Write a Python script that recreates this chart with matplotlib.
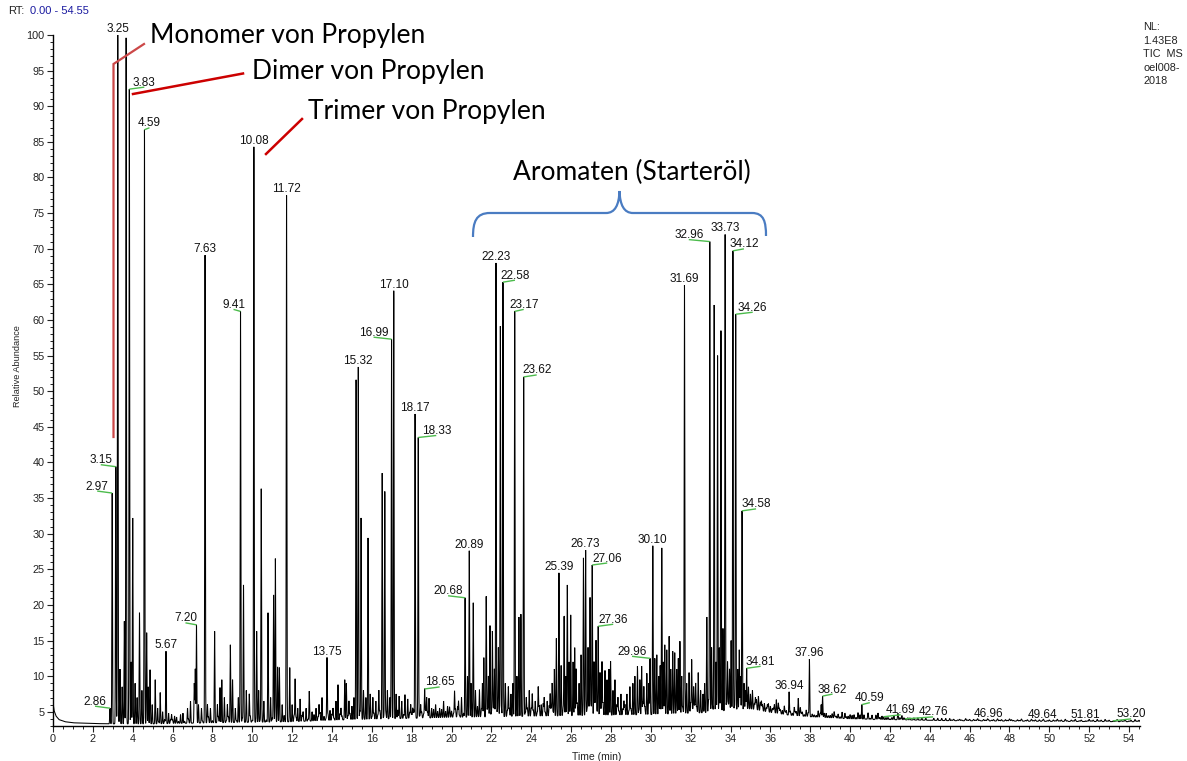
import numpy as np
import matplotlib
matplotlib.use("Agg")
import matplotlib.pyplot as plt
from matplotlib.ticker import MultipleLocator
from matplotlib.path import Path
from matplotlib.patches import PathPatch
from matplotlib.lines import Line2D

W, H = 1187, 761
plt.rcParams['font.family'] = ['Liberation Sans', 'DejaVu Sans']

# ---------------------------------------------------------------- data
# Peak table: retention time (min) and apex height (relative abundance, %)
peak_rt = [
    2.86, 2.97, 3.15, 3.25, 3.36, 3.47, 3.58, 3.67, 3.83, 3.92, 4.00, 4.12, 4.22,
    4.34, 4.46, 4.59, 4.70, 4.78, 4.87, 4.98, 5.13, 5.25, 5.38, 5.50, 5.67, 5.80,
    5.95, 6.10, 6.40, 6.52, 6.75, 6.90, 7.09, 7.14, 7.20, 7.30, 7.45, 7.63, 7.75,
    7.90, 8.11, 8.25, 8.38, 8.47, 8.60, 8.75, 8.90, 9.01, 9.15, 9.30, 9.41, 9.56,
    9.70, 9.85, 10.08, 10.22, 10.32, 10.45, 10.58, 10.79, 10.92, 11.07, 11.16,
    11.27, 11.36, 11.50, 11.72, 11.88, 12.00, 12.15, 12.28, 12.40, 12.55, 12.70,
    12.86, 13.00, 13.20, 13.35, 13.50, 13.75, 13.90, 14.05, 14.20, 14.30, 14.45,
    14.64, 14.72, 14.85, 15.00, 15.10, 15.21, 15.32, 15.46, 15.58, 15.70, 15.81,
    15.92, 16.05, 16.20, 16.35, 16.52, 16.65, 16.78, 16.90, 16.99, 17.10, 17.22,
    17.37, 17.50, 17.66, 17.80, 17.95, 18.05, 18.17, 18.33, 18.45, 18.65, 18.75,
    18.87, 19.00, 19.20, 19.40, 19.60, 19.80, 20.15, 20.35, 20.50, 20.68, 20.80,
    20.89, 20.98, 21.09, 21.20, 21.40, 21.55, 21.62, 21.74, 21.85, 21.93, 22.05,
    22.15, 22.23, 22.35, 22.45, 22.58, 22.70, 22.85, 22.98, 23.08, 23.17, 23.28,
    23.38, 23.48, 23.62, 23.75, 23.90, 24.05, 24.20, 24.35, 24.50, 24.65, 24.80,
    24.95, 25.05, 25.16, 25.26, 25.39, 25.50, 25.65, 25.73, 25.81, 25.90, 25.98,
    26.10, 26.18, 26.25, 26.40, 26.50, 26.62, 26.73, 26.85, 26.95, 27.06, 27.15,
    27.25, 27.36, 27.45, 27.55, 27.70, 27.80, 27.90, 27.98, 28.10, 28.20, 28.35,
    28.50, 28.65, 28.80, 28.95, 29.10, 29.20, 29.33, 29.45, 29.54, 29.65, 29.80,
    29.90, 29.96, 30.10, 30.20, 30.30, 30.40, 30.47, 30.55, 30.63, 30.70, 30.80,
    30.92, 31.00, 31.10, 31.20, 31.30, 31.38, 31.46, 31.55, 31.69, 31.80, 31.92,
    32.05, 32.15, 32.25, 32.38, 32.50, 32.62, 32.70, 32.81, 32.96, 33.05, 33.18,
    33.27, 33.35, 33.44, 33.52, 33.62, 33.73, 33.85, 33.95, 34.03, 34.12, 34.26,
    34.36, 34.44, 34.50, 34.58, 34.68, 34.75, 34.81, 34.90, 35.00, 35.10, 35.25,
    35.40, 35.55, 35.70, 35.85, 36.00, 36.15, 36.30, 36.45, 36.60, 36.75, 36.94,
    37.10, 37.25, 37.40, 37.55, 37.70, 37.96, 38.10, 38.30, 38.55, 38.62, 38.80,
    39.00, 39.25, 39.50, 39.74, 39.90, 40.10, 40.30, 40.59, 40.80, 41.00, 41.20,
    41.45, 41.60, 41.69, 41.80, 42.00, 42.30, 42.55, 42.76, 43.10, 43.50, 44.00,
    46.96, 49.64, 51.81, 53.20,
]
peak_top = [
    5.5, 35.7, 39.4, 100.0, 11.0, 8.5, 17.7, 99.6, 92.4, 12.0, 32.2, 9.0, 7.0,
    18.9, 8.0, 86.7, 16.1, 8.5, 10.9, 6.0, 9.5, 5.5, 7.7, 5.0, 13.5, 4.8,
    4.6, 4.4, 4.6, 4.8, 5.5, 6.5, 9.0, 11.0, 17.2, 6.0, 5.5, 69.1, 6.0,
    5.5, 16.3, 6.0, 8.4, 9.5, 7.0, 6.0, 14.4, 9.5, 5.5, 7.0, 61.2, 22.8,
    8.0, 7.5, 84.3, 16.3, 8.0, 36.3, 6.5, 18.9, 7.0, 21.4, 26.5,
    11.3, 11.2, 6.0, 77.5, 11.2, 6.0, 9.6, 5.5, 6.8, 5.0, 5.5,
    7.9, 5.0, 5.5, 6.0, 7.0, 12.6, 5.2, 5.5, 6.5, 8.8, 5.5,
    9.5, 9.0, 6.5, 5.8, 7.0, 51.6, 53.4, 32.2, 8.0, 7.0, 29.4,
    7.5, 7.0, 6.5, 8.0, 38.5, 35.9, 8.0, 7.0, 57.3, 64.1, 7.5,
    7.2, 6.5, 7.4, 6.8, 6.0, 5.5, 46.8, 43.5, 6.0, 8.2, 7.0,
    6.9, 5.5, 6.0, 5.5, 6.5, 5.8, 7.9, 6.5, 7.0, 21.0, 10.0,
    27.6, 9.0, 20.3, 8.0, 8.1, 9.0, 12.6, 21.2, 10.0, 17.1, 16.3,
    11.0, 68.0, 14.0, 59.1, 65.3, 9.0, 8.5, 7.5, 9.0, 61.2, 10.0,
    18.3, 18.7, 52.0, 7.0, 8.0, 7.5, 6.5, 8.5, 6.0, 7.0, 6.5,
    7.5, 9.0, 11.0, 15.3, 24.5, 11.5, 18.4, 10.0, 22.8, 12.0, 18.6,
    12.0, 14.0, 11.0, 9.0, 13.0, 26.6, 27.7, 14.0, 21.0, 25.6, 12.0,
    15.0, 17.0, 10.5, 12.0, 10.8, 9.5, 11.0, 12.1, 8.0, 9.5, 7.0,
    7.5, 6.5, 7.5, 8.5, 9.0, 10.0, 11.4, 9.5, 11.4, 8.5, 10.4,
    9.0, 12.5, 28.3, 12.5, 13.0, 10.0, 11.5, 28.0, 12.0, 14.4, 13.7,
    15.6, 11.0, 13.5, 13.3, 11.0, 12.5, 14.9, 10.0, 64.9, 9.0, 10.5,
    12.3, 8.5, 9.0, 10.5, 8.0, 7.5, 9.0, 18.3, 71.0, 14.0, 62.1,
    12.0, 55.0, 14.0, 58.5, 16.7, 72.0, 12.0, 11.0, 15.0, 69.7, 60.8,
    11.0, 13.7, 10.0, 33.2, 9.0, 8.0, 11.1, 8.5, 7.5, 8.0, 7.0,
    7.2, 6.5, 6.2, 6.0, 5.8, 5.5, 6.7, 5.5, 5.2, 5.0, 7.8,
    4.8, 5.0, 6.9, 4.8, 4.6, 12.4, 4.7, 4.5, 6.0, 7.2, 4.8,
    4.5, 4.3, 4.3, 4.8, 4.4, 4.5, 4.2, 6.0, 4.0, 4.1, 3.9,
    4.0, 4.4, 4.3, 4.2, 4.0, 3.9, 3.95, 4.0, 3.85, 3.85, 3.8,
    3.85, 3.75, 3.72, 3.72,
]

# Baseline (drift) of the total ion current
base_rt = [0.0, 0.05, 0.15, 0.3, 0.6, 1.0, 2.0, 2.9, 5.0, 8.0, 12.0, 15.0,
           20.0, 25.0, 30.0, 33.0, 35.0, 36.0, 37.0, 38.0, 40.0, 42.0, 45.0,
           50.0, 54.55]
base_level = [6.3, 5.2, 4.4, 3.9, 3.6, 3.45, 3.35, 3.3, 3.3, 3.45, 3.6, 3.9,
              4.2, 4.4, 4.6, 4.9, 5.4, 4.9, 4.5, 4.3, 4.0, 3.9, 3.75,
              3.65, 3.6]

# Minor peaks every 0.1 min from 3.0 min; each digit is a height step of 0.3 %
minor_start, minor_step, minor_unit = 3.0, 0.1, 0.3
minor_heights = (
    "1021301201" "0312012203" "1201302102" "2031201021" "0213012031"
    "1203102130" "2013021203" "1302103120" "2031203102" "1320130213"
    "2312432132" "3142321423" "4132413423" "1342431324" "3214342413"
    "2434132432" "1423441325" "3245132432" "4135243142" "2453142434"
    "3524435243" "4342546235" "4263524345" "2436452634" "5362436524"
    "4635243542" "3546236425" "5243564235" "3465243625" "5243654236"
    "4352435243" "3425342354" "2435243524" "3243523423" "2342342132"
    "2312321231" "1231213212" "2121321213" "1212312121" "2121312121"
    "101010101010101010101"
)
# Ripple on the late, flat part of the run: every 0.1 min from 45.1 min,
# each digit a height step of 0.1 %
tail_start, tail_step, tail_unit = 45.1, 0.1, 0.1
tail_heights = (
    "1201210312" "0213102130" "1203120213" "2102130120" "3120213012"
    "0213120310" "2130120213" "1203120312" "0213021301" "20312"
)

# Labelled peaks; shift = length of the leader line in pixels
# (negative: label to the left, positive: label to the right, 0: centred)
label_rt = [2.86, 2.97, 3.15, 3.25, 3.83, 4.59, 5.67, 7.20, 7.63, 9.41, 10.08,
            11.72, 13.75, 15.32, 16.99, 17.10, 18.17, 18.33, 18.65, 20.68,
            20.89, 22.23, 22.58, 23.17, 23.62, 25.39, 26.73, 27.06, 27.36,
            29.96, 30.10, 31.69, 32.96, 33.73, 34.12, 34.26, 34.58, 34.81,
            36.94, 37.96, 38.62, 40.59, 41.69, 42.76, 46.96, 49.64, 51.81,
            53.20]
label_shift = [-15, -15, -15, 0, 15, 5, 0, -11, 0, -7, 0,
               0, 0, 0, -18, 0, 0, 18, 15, -17,
               0, 0, 12, 9, 13, 0, 0, 15, 15,
               -18, 0, 0, -21, 0, 11, 17, 14, 14,
               0, 0, 10, 8, 17, 28, 0, 0, 0,
               18]

# ---------------------------------------------------------------- trace
t = np.union1d(np.arange(0.0, 54.55 + 1e-9, 0.003), peak_rt)
signal = np.interp(t, base_rt, base_level)
sigma = 0.015
for rt, top in zip(peak_rt, peak_top):
    amp = top - np.interp(rt, base_rt, base_level)
    signal += amp * np.exp(-0.5 * ((t - rt) / sigma) ** 2)

peak_arr = np.array(peak_rt)


def add_minor(start, step, unit, digits, width):
    global signal
    for i, ch in enumerate(digits):
        rt = start + i * step
        if np.min(np.abs(peak_arr - rt)) < 0.045:
            continue
        amp = int(ch) * unit
        if amp > 0:
            signal = signal + amp * np.exp(-0.5 * ((t - rt) / width) ** 2)


add_minor(minor_start, minor_step, minor_unit, minor_heights, 0.018)
add_minor(tail_start, tail_step, tail_unit, tail_heights, 0.025)

# ---------------------------------------------------------------- figure
fig = plt.figure(figsize=(W / 100, H / 100), dpi=100)
ax_l, ax_r, ax_t, ax_b = 53, 1140, 35, 726
ax = fig.add_axes([ax_l / W, 1 - ax_b / H, (ax_r - ax_l) / W, (ax_b - ax_t) / H])
xmin, xmax, ymin, ymax = 0.0, 54.55, 3.0, 100.0
ax.set_xlim(xmin, xmax)
ax.set_ylim(ymin, ymax)
sx = (ax_r - ax_l) / (xmax - xmin)   # pixels per minute
sy = (ax_b - ax_t) / (ymax - ymin)   # pixels per percent

ax.plot(t, signal, color='black', lw=0.75, solid_joinstyle='miter')

for s in ('top', 'right'):
    ax.spines[s].set_visible(False)
for s in ('left', 'bottom'):
    ax.spines[s].set_linewidth(1.0)
ax.xaxis.set_major_locator(MultipleLocator(2))
ax.xaxis.set_minor_locator(MultipleLocator(0.5))
ax.yaxis.set_major_locator(MultipleLocator(5))
ax.yaxis.set_minor_locator(MultipleLocator(1))
ax.set_yticks(np.arange(5, 101, 5))
ax.tick_params(which='major', length=4.5, width=0.8, labelsize=7.8,
               colors='#222222', pad=1.5)
ax.tick_params(which='minor', length=2.5, width=0.7, colors='#222222')

# peak labels
green = '#4cbb4c'
top_lookup = dict(zip(peak_rt, peak_top))
for rt, shift in zip(label_rt, label_shift):
    top = top_lookup[rt]
    text = f"{rt:.2f}"
    if shift == 0:
        ax.annotate(text, (rt, top), xytext=(0, 3), textcoords='offset pixels',
                    ha='center', va='baseline', fontsize=8.5, color='#111111',
                    annotation_clip=False)
    else:
        ex = rt + shift / sx
        ey = top + 2 / sy
        ax.plot([rt, ex], [top, ey], color=green, lw=1.0, clip_on=False,
                solid_capstyle='butt')
        ax.annotate(text, (ex, ey), xytext=(0, 1.5), textcoords='offset pixels',
                    ha='center', va='baseline', fontsize=8.5, color='#111111',
                    annotation_clip=False)


def fp(x, y):
    return x / W, 1 - y / H


# header texts
fig.text(*fp(8, 11), "RT:", fontsize=8, color='#222222', va='center')
fig.text(*fp(30, 11), "0.00 - 54.55", fontsize=8, color='#1a1aa0', va='center')
fig.text(*fp(1143, 22), "NL:\n1.43E8\nTIC  MS\noel008-\n2018", fontsize=7.8,
         color='#222222', va='top', ha='left', linespacing=1.45)
fig.text(*fp(18, 366), "Relative Abundance", rotation=90, fontsize=6.6,
         color='#222222', ha='center', va='center')
fig.text(*fp(597, 757), "Time (min)", fontsize=7.5, color='#222222',
         ha='center', va='center')

# annotations
ann_font = ['Lato', 'DejaVu Sans']
for txt, x, y in [("Monomer von Propylen", 150, 35),
                  ("Dimer von Propylen", 252, 72),
                  ("Trimer von Propylen", 308, 111),
                  ("Aromaten (Starteröl)", 513, 172)]:
    fig.text(*fp(x, y), txt, family=ann_font, fontsize=19,
             va='center', ha='left', color='black')


def fig_line(xs, ys, color, lw):
    fx = [x / W for x in xs]
    fy = [1 - y / H for y in ys]
    fig.add_artist(Line2D(fx, fy, color=color, lw=lw, transform=fig.transFigure,
                          solid_joinstyle='miter'))


fig_line([113.5, 113.5, 144], [437, 64, 44], '#cc4848', 1.6)
fig_line([133, 243], [94, 73.5], '#cc0000', 1.8)
fig_line([266, 302], [154, 119], '#cc0000', 1.8)

# curly brace over the aromatic region
brace_px = [(473, 237), (473, 222), (476, 213), (490, 213), (606, 213),
            (615, 213), (619, 205), (619.5, 191), (620, 205), (624, 213),
            (633, 213), (752, 213), (764, 213), (766, 222), (766, 236)]
codes = [Path.MOVETO, Path.CURVE4, Path.CURVE4, Path.CURVE4, Path.LINETO,
         Path.CURVE4, Path.CURVE4, Path.CURVE4, Path.CURVE4, Path.CURVE4,
         Path.CURVE4, Path.LINETO, Path.CURVE4, Path.CURVE4, Path.CURVE4]
verts = [fp(x, y) for x, y in brace_px]
fig.add_artist(PathPatch(Path(verts, codes), facecolor='none',
                         edgecolor='#4a7cc2', lw=1.6, transform=fig.transFigure))

fig.savefig("out.png", dpi=100)
